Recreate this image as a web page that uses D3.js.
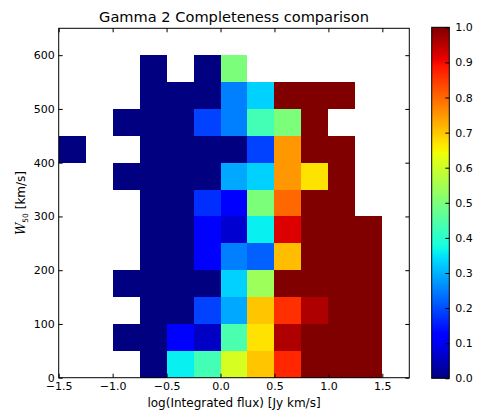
<!DOCTYPE html>
<html><head><meta charset="utf-8">
<script src="https://cdn.jsdelivr.net/npm/d3@7"></script>
<style>body{margin:0;background:#fff}svg{display:block}text{font-family:"DejaVu Sans",sans-serif;fill:#000}</style>
</head><body>
<script>
// x bin edges (log integrated flux), y bin edges (W50 km/s)
const xEdges = [-1.5,-1.25,-1.0,-0.75,-0.5,-0.25,0.0,0.25,0.5,0.75,1.0,1.25,1.5];
const yEdges = [0,50,100,150,200,250,300,350,400,450,500,550,600];
// completeness per row, from bottom (0-50) to top (550-600); null = empty
const row0  = [null,null,null,0,0.36,0.43,0.61,0.70,0.87,1,1,1];
const row1  = [null,null,0,0,0.11,0.06,0.44,0.67,0.96,1,1,1];
const row2  = [null,null,null,0,0,0.19,0.29,0.70,0.86,0.96,1,1];
const row3  = [null,null,0,0,0,0,0.33,0.54,1,1,1,1];
const row4  = [null,null,null,0,0,0.11,0.25,0.22,0.71,1,1,1];
const row5  = [null,null,null,0,0,0.11,0.07,0.36,0.92,1,1,1];
const row6  = [null,null,null,0,0,0.17,0.11,0.5,0.80,1,1,null];
const row7  = [null,null,0,0,0,0,0.29,0.33,0.75,0.67,1,null];
const row8  = [0,null,null,0,0,0,0,0.19,0.75,1,1,null];
const row9  = [null,null,0,0,0,0.19,0.25,0.43,0.5,1,null,null];
const row10 = [null,null,null,0,0,0,0.25,0.33,1,1,1,null];
const row11 = [null,null,null,0,null,0,0.5,null,null,null,null,null];
const rows = [row0,row1,row2,row3,row4,row5,row6,row7,row8,row9,row10,row11];
const xTicks = [-1.5,-1.0,-0.5,0.0,0.5,1.0,1.5];
const yTicks = [0,100,200,300,400,500,600];
const cbTicks = [0,0.1,0.2,0.3,0.4,0.5,0.6,0.7,0.8,0.9,1.0];

// matplotlib jet
const jetSeg = {
  r:[[0,0],[0.35,0],[0.66,1],[0.89,1],[1,0.5]],
  g:[[0,0],[0.125,0],[0.375,1],[0.64,1],[0.91,0],[1,0]],
  b:[[0,0.5],[0.11,1],[0.34,1],[0.65,0],[1,0]]
};
function seg(s,v){for(let i=1;i<s.length;i++){if(v<=s[i][0]){const a=s[i-1],b=s[i];return a[1]+(b[1]-a[1])*(v-a[0])/(b[0]-a[0]);}}return s[s.length-1][1];}
function jet(v){v=Math.max(0,Math.min(1,v));return d3.rgb(255*seg(jetSeg.r,v),255*seg(jetSeg.g,v),255*seg(jetSeg.b,v)).formatHex();}

const W=480,H=414;
const svg=d3.select("body").append("svg").attr("width",W).attr("height",H);
const L=58.7,R=409.3,T=28.3,B=377.7;
const x=d3.scaleLinear().domain([-1.5,1.75]).range([L,R]);
const y=d3.scaleLinear().domain([0,650]).range([B,T]);
const color=d3.scaleSequential(jet).domain([0,1]);
const px=v=>Math.round(x(v)), py=v=>Math.round(y(v));

const cells=[];
rows.forEach((r,j)=>r.forEach((v,i)=>{if(v!==null)cells.push({i,j,v});}));
svg.append("g").attr("shape-rendering","crispEdges").selectAll("rect").data(cells).join("rect")
  .attr("x",d=>px(xEdges[d.i])).attr("y",d=>py(yEdges[d.j+1]))
  .attr("width",d=>px(xEdges[d.i+1])-px(xEdges[d.i]))
  .attr("height",d=>py(yEdges[d.j])-py(yEdges[d.j+1]))
  .attr("fill",d=>color(d.v));

const fmt=d3.format(".1f");
const fs=11;
const gB=svg.append("g").attr("transform",`translate(0,${B})`)
  .call(d3.axisBottom(x).tickValues(xTicks).tickFormat(fmt).tickSizeInner(-4).tickSizeOuter(0).tickPadding(5));
const gT=svg.append("g").attr("transform",`translate(0,${T})`)
  .call(d3.axisTop(x).tickValues(xTicks).tickFormat("").tickSizeInner(-4).tickSizeOuter(0));
const gL=svg.append("g").attr("transform",`translate(${L},0)`)
  .call(d3.axisLeft(y).tickValues(yTicks).tickFormat(d3.format("d")).tickSizeInner(-4).tickSizeOuter(0).tickPadding(4));
const gR=svg.append("g").attr("transform",`translate(${R},0)`)
  .call(d3.axisRight(y).tickValues(yTicks).tickFormat("").tickSizeInner(-4).tickSizeOuter(0));
[gB,gT,gL,gR].forEach(g=>{g.select(".domain").remove();g.selectAll("text").attr("font-size",fs).attr("font-family","DejaVu Sans");g.selectAll("line").attr("stroke","#000");});
svg.append("rect").attr("x",L).attr("y",T).attr("width",R-L).attr("height",B-T).attr("fill","none").attr("stroke","#000").attr("stroke-width",1);

svg.append("text").attr("x",(L+R)/2).attr("y",22).attr("text-anchor","middle").attr("font-size",14.6).text("Gamma 2 Completeness comparison");
svg.append("text").attr("x",(L+R)/2).attr("y",407).attr("text-anchor","middle").attr("font-size",12).text("log(Integrated flux) [Jy km/s]");
const yl=svg.append("text").attr("transform",`translate(25,${(T+B)/2}) rotate(-90)`).attr("text-anchor","middle").attr("font-size",12);
yl.append("tspan").attr("font-family","DejaVu Serif").attr("font-style","italic").text("W");
yl.append("tspan").attr("font-size",7.5).attr("dy",3).text("50");
yl.append("tspan").attr("dy",-3).text(" [km/s]");

// colorbar
const cL=431.7,cR=449.3,cT=27.3,cB=378.3;
const cy=d3.scaleLinear().domain([0,1]).range([cB,cT]);
const grad=svg.append("defs").append("linearGradient").attr("id","jetg").attr("x1",0).attr("y1",1).attr("x2",0).attr("y2",0);
d3.range(0,1.0001,0.01).forEach(v=>grad.append("stop").attr("offset",v).attr("stop-color",jet(v)));
svg.append("rect").attr("x",cL).attr("y",cT).attr("width",cR-cL).attr("height",cB-cT).attr("fill","url(#jetg)").attr("stroke","#000").attr("stroke-width",1);
const gC=svg.append("g").attr("transform",`translate(${cR},0)`)
  .call(d3.axisRight(cy).tickValues(cbTicks).tickFormat(fmt).tickSizeInner(-4).tickSizeOuter(0).tickPadding(6));
gC.select(".domain").remove();
gC.selectAll("text").attr("font-size",fs).attr("font-family","DejaVu Sans");
gC.selectAll("line").attr("stroke","#000");
</script>
</body></html>
